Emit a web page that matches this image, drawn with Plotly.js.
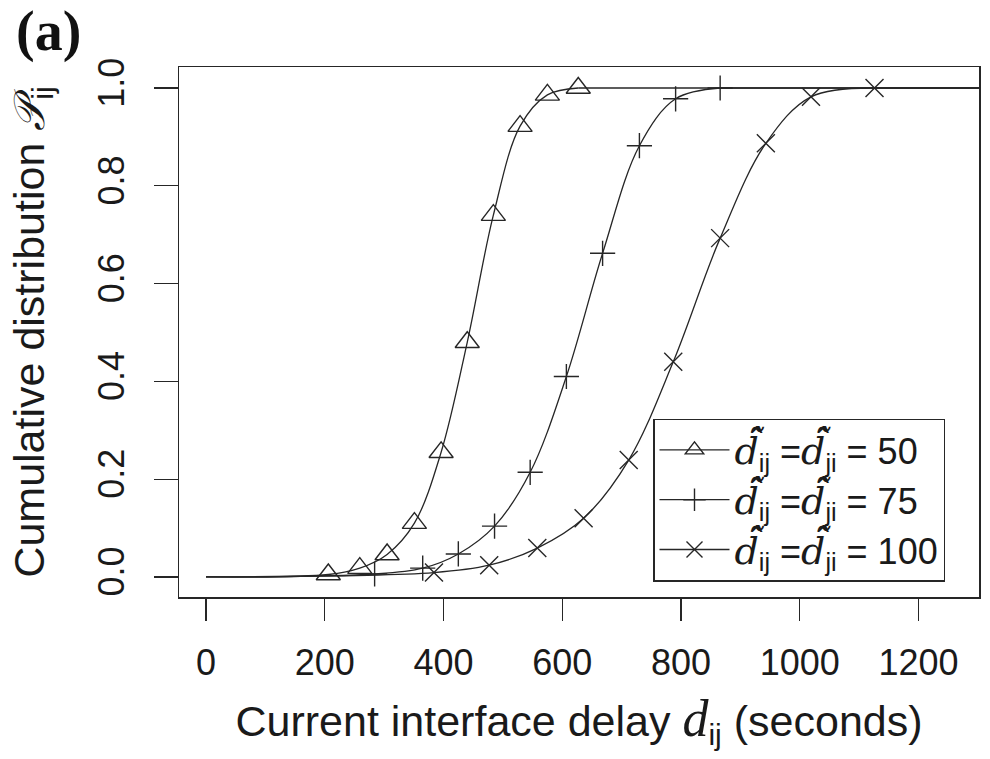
<!DOCTYPE html>
<html>
<head>
<meta charset="utf-8">
<script src="https://cdn.plot.ly/plotly-3.0.1.min.js"></script>
<style>
  html, body { margin: 0; padding: 0; background: #ffffff; }
  #chart { width: 990px; height: 759px; }
</style>
</head>
<body>
<div id="chart"></div>
<script>
// Sampled points of the cumulative distribution for each estimated delay
var delay50 = [206, 259, 305, 351, 396, 440, 484, 529, 575, 627];
var cdf50   = [0.005, 0.018, 0.046, 0.110, 0.255, 0.480, 0.740, 0.922, 0.986, 1.000];

var delay75 = [284, 365, 425, 486, 546, 607, 668, 730, 791, 866];
var cdf75   = [0.006, 0.018, 0.047, 0.104, 0.214, 0.410, 0.662, 0.882, 0.978, 1.000];

var delay100 = [384, 477, 558, 636, 712, 787, 866, 943, 1019, 1126];
var cdf100   = [0.009, 0.024, 0.059, 0.120, 0.239, 0.440, 0.693, 0.887, 0.982, 1.000];

// Ends of the plotted curves: start of the delay axis, and the plateau out to the right edge
var edgeDelay = [0, 1330];
var edgeCdf   = [0, 1];

var xTicks = [0, 200, 400, 600, 800, 1000, 1200];
var yTicks = [0.0, 0.2, 0.4, 0.6, 0.8, 1.0];

var seriesLabels = ['50', '75', '100'];
var symbols = ['triangle-up-open', 'cross-thin-open', 'x-thin-open'];
var symbolSizes = [21, 18, 18];

var ink = '#262626';
var dHat = '<span style="font-family:\'DejaVu Serif\';font-style:italic;font-size:38px">d\u0303\u0302</span>';

function legendText(v) {
  return dHat + '<sub>ij</sub> =' + dHat + '<sub>ji</sub> = ' + v;
}

var sets = [[delay50, cdf50], [delay75, cdf75], [delay100, cdf100]];
var traces = [];
sets.forEach(function (s, i) {
  var n = s[0].length;
  // the curve start on the axis carries no marker; every sample gets one
  var sizes = [0].concat(s[0].map(function () { return symbolSizes[i]; }));
  // smooth rising curve through the samples, with markers and the legend entry
  traces.push({
    x: [edgeDelay[0]].concat(s[0]), y: [edgeCdf[0]].concat(s[1]),
    type: 'scatter', mode: 'lines+markers',
    line: { color: ink, width: 1.3, shape: 'spline', smoothing: 1 },
    marker: { symbol: symbols[i], size: sizes, color: ink, opacity: 1,
              line: { color: ink, width: 1.4 } },
    name: legendText(seriesLabels[i]),
    showlegend: true
  });
  // flat plateau at 1 after the last sample
  traces.push({
    x: [s[0][n - 1], edgeDelay[1]], y: [s[1][n - 1], edgeCdf[1]],
    type: 'scatter', mode: 'lines',
    line: { color: ink, width: 1.3 },
    showlegend: false, hoverinfo: 'skip'
  });
});

var titleFont = 'Liberation Sans, Arial, sans-serif';

var layout = {
  width: 990, height: 759,
  margin: { l: 179, r: 11, t: 67, b: 162 },
  paper_bgcolor: '#ffffff', plot_bgcolor: '#ffffff',
  font: { family: 'Liberation Sans, Arial, sans-serif', size: 36, color: '#1a1a1a' },
  showlegend: true,
  legend: {
    x: 0.5925, y: 0.183, xanchor: 'left', yanchor: 'middle',
    bgcolor: '#ffffff', bordercolor: ink, borderwidth: 1.5,
    font: { size: 36 }, itemwidth: 70, tracegroupgap: 0
  },
  xaxis: {
    range: [-45.5, 1302], tickvals: xTicks, ticktext: xTicks.map(String),
    showgrid: false, zeroline: false,
    showline: true, mirror: true, linecolor: ink, linewidth: 1.5,
    ticks: 'outside', ticklen: 22, tickwidth: 1.3, tickcolor: ink,
    tickfont: { size: 36 }, ticklabelstandoff: 11,
    title: { text: 'Current interface delay <span style="font-family:\'Liberation Serif\';font-style:italic;font-size:52px">d</span><sub>ij</sub> (seconds)',
             font: { family: titleFont, size: 43 }, standoff: 24 }
  },
  yaxis: {
    range: [-0.041, 1.043], tickvals: yTicks, ticktext: yTicks.map(function (v) { return v.toFixed(1); }),
    showgrid: false, zeroline: false,
    showline: true, mirror: true, linecolor: ink, linewidth: 1.5,
    ticks: 'outside', ticklen: 24, tickwidth: 1.3, tickcolor: ink,
    tickangle: -90, tickfont: { size: 36 }, ticklabelstandoff: 15,
    title: { text: 'Cumulative distribution <span style="font-family:\'Liberation Serif\';font-style:italic">\uD835\uDCAB</span><sub>ij</sub>',
             font: { family: titleFont, size: 43 }, standoff: 33 }
  },
  annotations: [{
    xref: 'paper', yref: 'paper', x: -0.206, y: 1.13, xanchor: 'left', yanchor: 'top',
    text: '<b>(a)</b>', showarrow: false,
    font: { family: 'Liberation Serif, Times New Roman, serif', size: 56, color: '#111111' }
  }]
};

Plotly.newPlot('chart', traces, layout, { displayModeBar: false, staticPlot: true });
</script>
</body>
</html>
